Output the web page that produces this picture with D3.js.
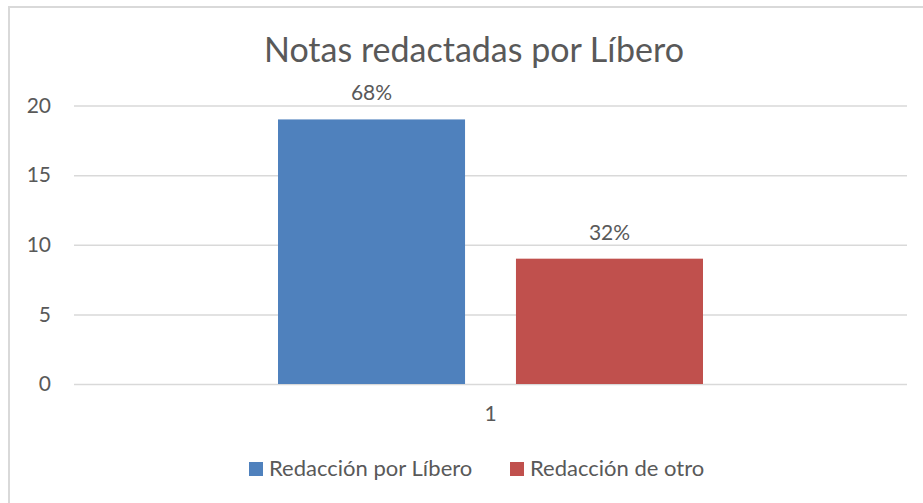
<!DOCTYPE html>
<html><head><meta charset="utf-8">
<script src="https://cdn.jsdelivr.net/npm/d3@7"></script>
<style>body{margin:0;background:#fff;} text{font-family:Lato,"Open Sans",sans-serif;fill:#595959;}</style>
</head><body><svg id="c" width="923" height="503"></svg>
<script>
const categories = ["1"];
const seriesNames = ["Redacción por Líbero", "Redacción de otro"];
const seriesValues = [19, 9];
const dataLabels = ["68%", "32%"];
const yTicks = [0, 5, 10, 15, 20];
const colors = ["#4F81BD", "#C0504D"];

(function(){
const svg = d3.select("#c");
svg.append("rect").attr("x",9).attr("y",7).attr("width",930).attr("height",510)
  .attr("fill","#fff").attr("stroke","#d9d9d9").attr("stroke-width",2);

const pL = 74, pR = 907, pT = 105.5, pB = 384;
const y = d3.scaleLinear().domain([0,20]).range([pB, pT]);
const x0 = d3.scaleBand().domain(categories).range([pL,pR]).paddingInner(0).paddingOuter(0.48);
const x1 = d3.scaleBand().domain(seriesNames).range([0, x0.bandwidth()]).paddingInner(0.214).paddingOuter(0);

svg.append("text").attr("x",474).attr("y",62).attr("text-anchor","middle")
  .style("font-size","34px").text("Notas redactadas por Líbero");

const yAxis = svg.append("g").attr("transform",`translate(${pL},0)`)
  .call(d3.axisLeft(y).tickValues(yTicks).tickSize(-(pR-pL)).tickPadding(23));
yAxis.select(".domain").remove();
yAxis.selectAll("line").attr("stroke","#d9d9d9").attr("stroke-width",1.5);
yAxis.selectAll("text").style("font-size","21px").attr("fill","#595959").style("font-family","Lato");

const xAxis = svg.append("g").attr("transform",`translate(0,${pB})`)
  .call(d3.axisBottom(x0).tickSize(0).tickPadding(22));
xAxis.select(".domain").remove();
xAxis.selectAll("text").style("font-size","21px").attr("fill","#595959").style("font-family","Lato");

const g = svg.append("g");
seriesNames.forEach((s,i)=>{
  const bx = x0(categories[0]) + x1(s);
  g.append("rect").attr("x",bx).attr("y",y(seriesValues[i])).attr("width",x1.bandwidth())
    .attr("height",y(0)-y(seriesValues[i])).attr("fill",colors[i]);
  g.append("text").attr("x",bx+x1.bandwidth()/2).attr("y",y(seriesValues[i])-19)
    .attr("text-anchor","middle").style("font-size","21px").text(dataLabels[i]);
});

const legX = [249, 510];
seriesNames.forEach((s,i)=>{
  svg.append("rect").attr("x",legX[i]).attr("y",462).attr("width",14).attr("height",14).attr("fill",colors[i]);
  svg.append("text").attr("x",legX[i]+20).attr("y",476).style("font-size","22px").text(s);
});
})();
</script></body></html>
